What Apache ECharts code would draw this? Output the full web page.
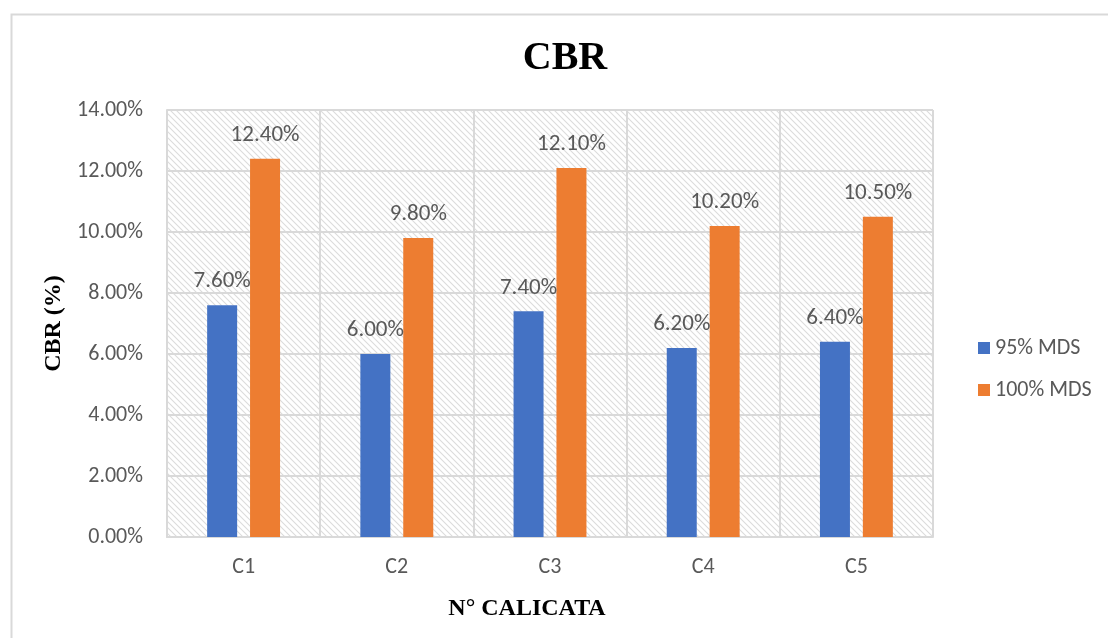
<!DOCTYPE html>
<html>
<head>
<meta charset="utf-8">
<style>
  html, body { margin: 0; padding: 0; background: #fff; }
  #chart { width: 1108px; height: 638px; }
</style>
<script src="https://cdn.jsdelivr.net/npm/echarts@6/dist/echarts.min.js"></script>
</head>
<body>
<div id="chart"></div>
<script>
// CBR results per test pit (calicata) at 95% and 100% of maximum dry density
const categories = ['C1', 'C2', 'C3', 'C4', 'C5'];
const seriesNames = ['95% MDS', '100% MDS'];
const mds95 = [7.6, 6.0, 7.4, 6.2, 6.4];
const mds100 = [12.4, 9.8, 12.1, 10.2, 10.5];
const yTicks = [0, 2, 4, 6, 8, 10, 12, 14];

// light diagonal hatch for the plot background
function hatchPattern() {
  const c = document.createElement('canvas');
  c.width = 6; c.height = 6;
  const g = c.getContext('2d');
  g.fillStyle = '#ffffff';
  g.fillRect(0, 0, 6, 6);
  g.strokeStyle = '#dcdcdc';
  g.lineWidth = 1.1;
  g.beginPath();
  g.moveTo(-1, -1); g.lineTo(7, 7);
  g.moveTo(-1, 5); g.lineTo(1, 7);
  g.moveTo(5, -1); g.lineTo(7, 1);
  g.stroke();
  return { image: c, repeat: 'repeat' };
}

const sansFamily = 'Carlito, Calibri, "Liberation Sans", sans-serif';
const serifFamily = '"Liberation Serif", "Times New Roman", serif';
const tickFont = { fontFamily: sansFamily, fontSize: 22, color: '#595959' };
const valueFont = { fontFamily: sansFamily, fontSize: 23, color: '#595959' };
const pct = v => v.toFixed(2) + '%';

const chart = echarts.init(document.getElementById('chart'), null, { renderer: 'canvas' });
chart.setOption({
  animation: false,
  title: {
    text: 'CBR',
    left: 560, top: 34, textAlign: 'center',
    textStyle: { fontFamily: serifFamily, fontWeight: 'bold', fontSize: 40, color: '#000' }
  },
  graphic: [{
    type: 'rect', left: 9, top: 12, z: -1,
    shape: { width: 1200, height: 700 },
    style: { fill: 'none', stroke: '#d9d9d9', lineWidth: 2 }
  }],
  legend: {
    orient: 'vertical', left: 973, top: 332, itemGap: 20,
    itemWidth: 12, itemHeight: 12, icon: 'rect',
    textStyle: { fontFamily: sansFamily, fontSize: 22, color: '#595959' },
    data: seriesNames
  },
  grid: {
    left: 167, right: 175, top: 110, bottom: 101,
    show: true, backgroundColor: hatchPattern(), borderWidth: 0
  },
  xAxis: {
    type: 'category', data: categories,
    name: 'N° CALICATA', nameLocation: 'middle', nameGap: 60,
    nameTextStyle: { fontFamily: serifFamily, fontWeight: 'bold', fontSize: 24, color: '#000', padding: [0, 46, 0, 0] },
    axisLine: { lineStyle: { color: '#d9d9d9', width: 2 } },
    axisTick: { show: false },
    axisLabel: { ...tickFont, margin: 19 },
    splitLine: { show: true, lineStyle: { color: '#d9d9d9', width: 2 } }
  },
  yAxis: {
    type: 'value', min: 0, max: 14, interval: 2,
    name: 'CBR (%)', nameLocation: 'middle', nameGap: 98, nameRotate: 90,
    nameTextStyle: { fontFamily: serifFamily, fontWeight: 'bold', fontSize: 24, color: '#000' },
    axisLine: { show: true, lineStyle: { color: '#d9d9d9', width: 2 } },
    axisTick: { show: false },
    axisLabel: { ...tickFont, margin: 24, formatter: v => yTicks.includes(v) ? pct(v) : '' },
    splitLine: { show: true, lineStyle: { color: '#d9d9d9', width: 2 } }
  },
  series: [
    {
      name: seriesNames[0], type: 'bar', data: mds95,
      barWidth: 30, barGap: '43%',
      itemStyle: { color: '#4472C4' },
      label: { show: true, position: 'top', distance: 12, ...valueFont, formatter: p => pct(p.value) }
    },
    {
      name: seriesNames[1], type: 'bar', data: mds100,
      barWidth: 30, barGap: '43%',
      itemStyle: { color: '#ED7D31' },
      label: { show: true, position: 'top', distance: 12, ...valueFont, formatter: p => pct(p.value) }
    }
  ]
});
</script>
</body>
</html>
